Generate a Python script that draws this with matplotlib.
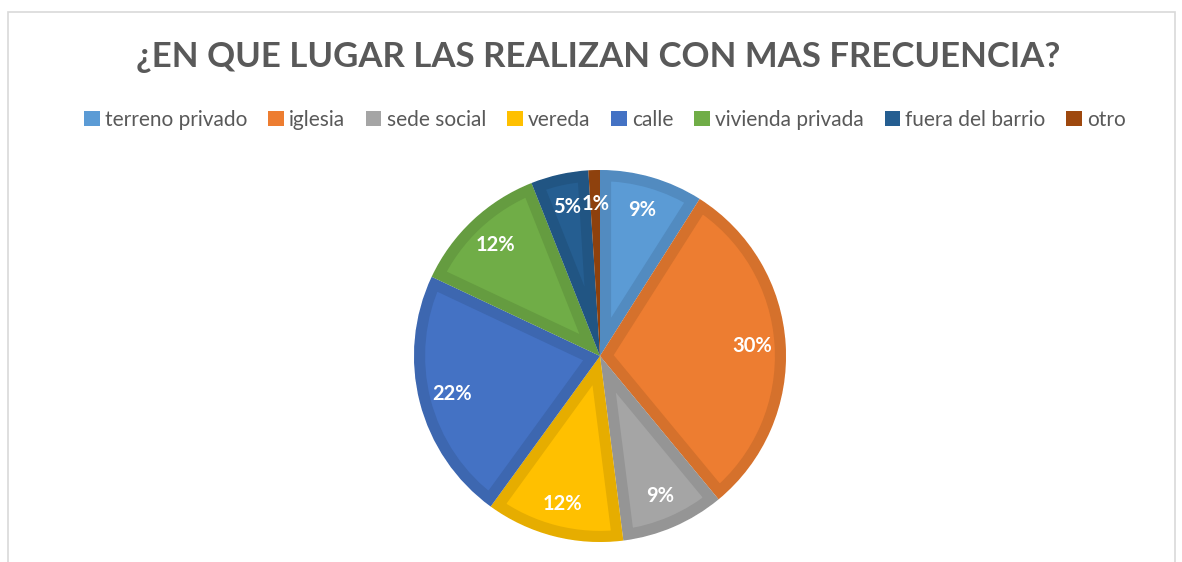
import matplotlib.pyplot as plt
from matplotlib.patches import Rectangle, Patch, Wedge
import matplotlib.colors as mcolors

categorias = ['terreno privado', 'iglesia', 'sede social', 'vereda', 'calle',
              'vivienda privada', 'fuera del barrio', 'otro']
porcentajes = [9, 30, 9, 12, 22, 12, 5, 1]
colores = ['#5B9BD5', '#ED7D31', '#A5A5A5', '#FFC000', '#4472C4',
           '#70AD47', '#255E91', '#9E480E']
titulo = '¿EN QUE LUGAR LAS REALIZAN CON MAS FRECUENCIA?'


def oscurecer(c, f=0.9):
    r, g, b = mcolors.to_rgb(c)
    return (r * f, g * f, b * f)


W, H = 1182, 562
fig = plt.figure(figsize=(W / 100, H / 100), dpi=100)
fig.patch.set_facecolor('white')

# marco del grafico
fig.patches.append(Rectangle((8 / W, -0.1), (1175 - 8) / W, 1.1 - 12 / H,
                             transform=fig.transFigure, fill=False,
                             edgecolor='#D9D9D9', lw=1.2))

cx, cy, R = 600, 356, 186
ax = fig.add_axes([(cx - R) / W, (H - cy - R) / H, 2 * R / W, 2 * R / H])

wedges, textos = ax.pie(porcentajes, colors=colores, startangle=90,
                        counterclock=False, radius=1,
                        labels=[f'{p}%' for p in porcentajes],
                        labeldistance=0.82,
                        wedgeprops=dict(edgecolor='white', linewidth=0.6),
                        textprops=dict(color='white', fontsize=14.5,
                                       fontweight='bold', family='Lato'))
for t in textos:
    t.set_ha('center')
    t.set_va('center')
    t.set_zorder(5)

# borde interior mas oscuro de cada porcion
for w, c in zip(wedges, colores):
    borde = Wedge(w.center, w.r, w.theta1, w.theta2, facecolor='none',
                  edgecolor=oscurecer(c), linewidth=16)
    ax.add_patch(borde)
    borde.set_clip_path(w)
    borde.set_zorder(w.get_zorder() + 0.5)

ax.set_xlim(-1, 1)
ax.set_ylim(-1, 1)
ax.set_aspect('equal')
ax.axis('off')

fig.text(598 / W, 1 - 57 / H, titulo, ha='center', va='center',
         fontsize=25, fontweight='bold', color='#595959', family='Lato')

handles = [Patch(facecolor=c, edgecolor='none') for c in colores]
fig.legend(handles, categorias, loc='center',
           bbox_to_anchor=(605 / W, 1 - 120 / H),
           ncol=8, frameon=False, handlelength=0.75,
           handleheight=0.75, handletextpad=0.25, columnspacing=1.0,
           prop=dict(family='Lato', size=15), labelcolor='#595959')

fig.savefig('out.png', dpi=100)
